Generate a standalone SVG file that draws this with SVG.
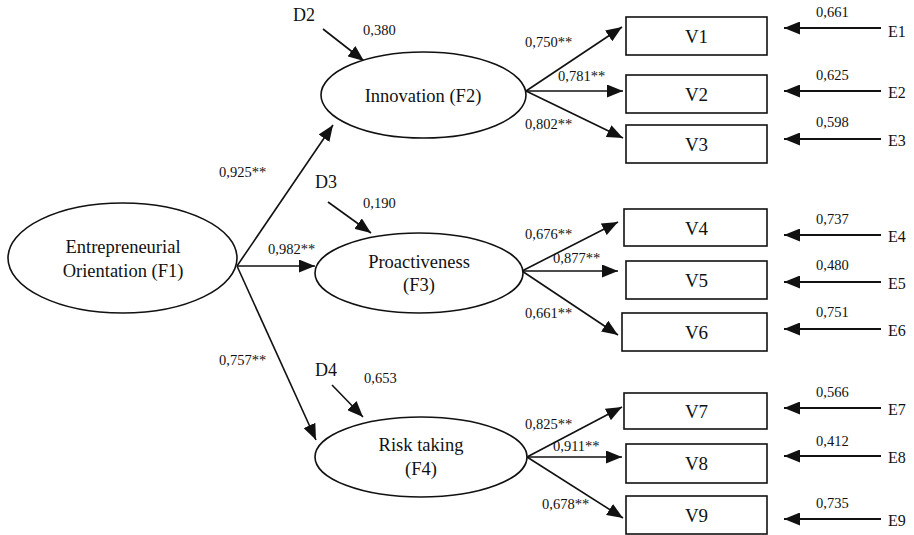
<svg xmlns="http://www.w3.org/2000/svg" width="914" height="535" viewBox="0 0 914 535">
<style>
text{font-family:"Liberation Serif","Times New Roman",serif;fill:#111}
.lat{fill:#fff;stroke:#111;stroke-width:1.6}
.obs{fill:#fff;stroke:#111;stroke-width:1.6}
.c{stroke:#111;stroke-width:1.6;fill:none;marker-end:url(#ah)}
.e{stroke:#111;stroke-width:2.2;fill:none;marker-end:url(#ah)}
.big{font-size:18.5px;text-anchor:middle}
.v{font-size:19px;text-anchor:middle}
.n{font-size:14.5px}
.lbl{font-size:16px}
.d{font-size:18px}
</style>
<defs>
<marker id="ah" markerUnits="userSpaceOnUse" markerWidth="17" markerHeight="13" refX="16" refY="6.5" orient="auto">
<path d="M0,0 L16,6.5 L0,13 z" fill="#111"/>
</marker>
</defs>
<g id="connectors">
<line class="c" x1="237" y1="266" x2="333" y2="125"/>
<line class="c" x1="237" y1="266" x2="315" y2="266"/>
<line class="c" x1="237" y1="266" x2="316" y2="440"/>
<line class="c" x1="323" y1="29" x2="364" y2="61"/>
<line class="c" x1="328" y1="202" x2="371" y2="233"/>
<line class="c" x1="332" y1="385" x2="363" y2="417"/>
<line class="c" x1="526" y1="91" x2="622" y2="27"/>
<line class="c" x1="526" y1="91" x2="623" y2="91"/>
<line class="c" x1="526" y1="91" x2="623" y2="138"/>
<line class="c" x1="522" y1="271" x2="618" y2="222"/>
<line class="c" x1="522" y1="271" x2="618" y2="271"/>
<line class="c" x1="522" y1="271" x2="618" y2="335"/>
<line class="c" x1="527" y1="457" x2="622" y2="407"/>
<line class="c" x1="527" y1="457" x2="622" y2="457"/>
<line class="c" x1="527" y1="457" x2="623" y2="518"/>
<line class="e" x1="881" y1="28" x2="784" y2="28"/>
<line class="e" x1="881" y1="91" x2="784" y2="91"/>
<line class="e" x1="881" y1="139" x2="784" y2="139"/>
<line class="e" x1="881" y1="235" x2="784" y2="235"/>
<line class="e" x1="881" y1="282" x2="784" y2="282"/>
<line class="e" x1="881" y1="329" x2="784" y2="329"/>
<line class="e" x1="881" y1="408" x2="784" y2="408"/>
<line class="e" x1="881" y1="456" x2="784" y2="456"/>
<line class="e" x1="881" y1="519" x2="784" y2="519"/>
</g>
<g id="path-labels">
<text class="n" x="219" y="177">0,925**</text>
<text class="n" x="268" y="254">0,982**</text>
<text class="n" x="219" y="365">0,757**</text>
<text class="n" x="525" y="47">0,750**</text>
<text class="n" x="558" y="81">0,781**</text>
<text class="n" x="525" y="129">0,802**</text>
<text class="n" x="525" y="239">0,676**</text>
<text class="n" x="553" y="263">0,877**</text>
<text class="n" x="525" y="318">0,661**</text>
<text class="n" x="525" y="429">0,825**</text>
<text class="n" x="553" y="451">0,911**</text>
<text class="n" x="542" y="509">0,678**</text>
</g>
<g id="F1">
<ellipse class="lat" cx="122.5" cy="258" rx="114.5" ry="55"/>
<text class="big" x="123" y="253">Entrepreneurial</text>
<text class="big" x="123" y="277">Orientation (F1)</text>
</g>
<g id="F2">
<ellipse class="lat" cx="423.5" cy="95" rx="102.5" ry="43"/>
<text class="big" x="423" y="102">Innovation (F2)</text>
</g>
<g id="F3">
<ellipse class="lat" cx="419" cy="273" rx="104" ry="40"/>
<text class="big" x="419" y="268">Proactiveness</text>
<text class="big" x="419" y="291">(F3)</text>
</g>
<g id="F4">
<ellipse class="lat" cx="421" cy="457" rx="106" ry="40"/>
<text class="big" x="421" y="451">Risk taking</text>
<text class="big" x="421" y="475">(F4)</text>
</g>
<g id="D2">
<text class="d" x="293" y="21">D2</text>
<text class="n" x="363" y="35">0,380</text>
</g>
<g id="D3">
<text class="d" x="315" y="188">D3</text>
<text class="n" x="363" y="208">0,190</text>
</g>
<g id="D4">
<text class="d" x="315" y="376">D4</text>
<text class="n" x="364" y="383">0,653</text>
</g>
<g id="V1"><rect class="obs" x="626" y="17" width="141" height="38"/><text class="v" x="696.5" y="43">V1</text></g>
<g id="V2"><rect class="obs" x="626" y="75" width="141" height="38"/><text class="v" x="696.5" y="101">V2</text></g>
<g id="V3"><rect class="obs" x="626" y="125" width="141" height="38"/><text class="v" x="696.5" y="151">V3</text></g>
<g id="V4"><rect class="obs" x="624" y="209" width="143" height="37"/><text class="v" x="696.5" y="235">V4</text></g>
<g id="V5"><rect class="obs" x="626" y="261" width="141" height="38"/><text class="v" x="696.5" y="287">V5</text></g>
<g id="V6"><rect class="obs" x="622" y="313" width="145" height="38"/><text class="v" x="696.5" y="339">V6</text></g>
<g id="V7"><rect class="obs" x="624" y="393" width="143" height="36"/><text class="v" x="696.5" y="418">V7</text></g>
<g id="V8"><rect class="obs" x="626" y="444" width="141" height="39"/><text class="v" x="696.5" y="470">V8</text></g>
<g id="V9"><rect class="obs" x="626" y="496" width="141" height="38"/><text class="v" x="696.5" y="522">V9</text></g>
<g id="E1"><text class="lbl" x="888" y="37">E1</text><text class="n" x="816" y="17">0,661</text></g>
<g id="E2"><text class="lbl" x="888" y="98">E2</text><text class="n" x="816" y="80">0,625</text></g>
<g id="E3"><text class="lbl" x="888" y="146">E3</text><text class="n" x="816" y="127">0,598</text></g>
<g id="E4"><text class="lbl" x="888" y="242">E4</text><text class="n" x="816" y="224">0,737</text></g>
<g id="E5"><text class="lbl" x="888" y="289">E5</text><text class="n" x="816" y="270">0,480</text></g>
<g id="E6"><text class="lbl" x="888" y="336">E6</text><text class="n" x="816" y="317">0,751</text></g>
<g id="E7"><text class="lbl" x="888" y="415">E7</text><text class="n" x="816" y="397">0,566</text></g>
<g id="E8"><text class="lbl" x="888" y="463">E8</text><text class="n" x="816" y="446">0,412</text></g>
<g id="E9"><text class="lbl" x="888" y="526">E9</text><text class="n" x="816" y="508">0,735</text></g>
</svg>
